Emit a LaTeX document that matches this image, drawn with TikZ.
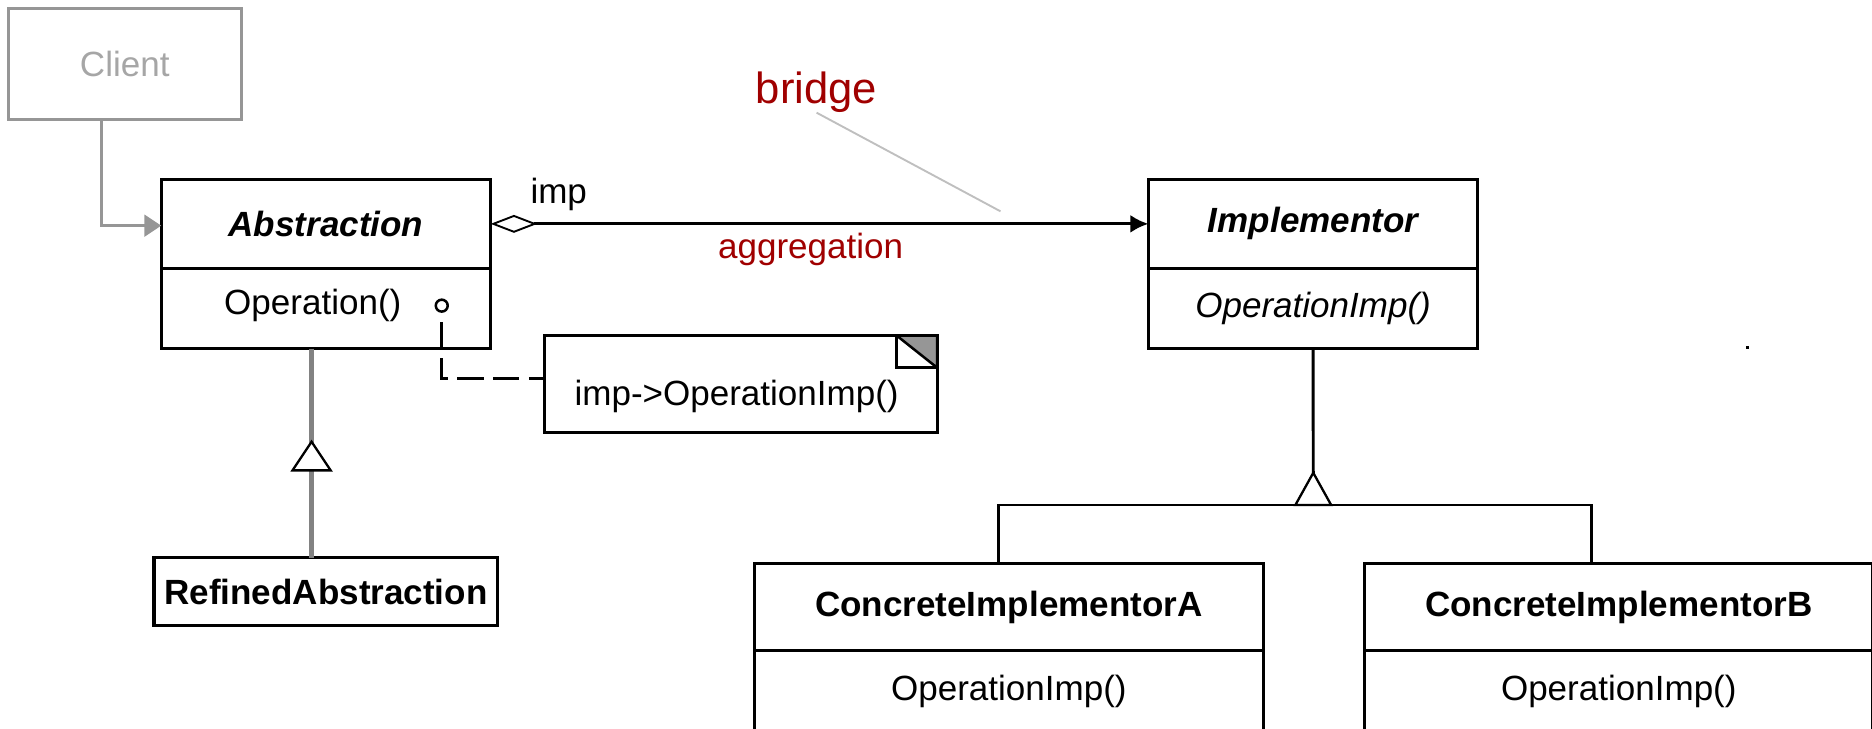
\documentclass[tikz,border=0pt]{standalone}
\usepackage{fontspec}
\setmainfont{Liberation Sans}
\usepackage{tikz}
\usetikzlibrary{arrows.meta, positioning}
\definecolor{clientgray}{RGB}{150,150,150}
\definecolor{gengray}{RGB}{130,130,130}
\definecolor{bridgered}{RGB}{160,0,0}
\newcommand{\umlsize}{\fontsize{16.7}{20}\selectfont}
\newcommand{\bridgesize}{\fontsize{20.8}{25}\selectfont}
\tikzset{
  box/.style = {draw=black, line width=1.5pt, inner sep=0pt, outer sep=0pt,
    font=\umlsize, align=center},
  clshead/.style = {box, minimum width=5.52cm, minimum height=1.5cm,
    font=\umlsize\bfseries\itshape},
  clsops/.style = {box, minimum width=5.52cm, minimum height=1.34cm},
  conchead/.style = {box, minimum width=8.52cm, minimum height=1.46cm,
    font=\umlsize\bfseries},
  concops/.style = {box, minimum width=8.52cm, minimum height=1.36cm},
  refbox/.style = {box, minimum width=5.76cm, minimum height=1.14cm,
    font=\umlsize\bfseries},
  clientbox/.style = {box, draw=clientgray, text=clientgray!85,
    minimum width=3.9cm, minimum height=1.86cm},
  notebox/.style = {box, minimum width=6.58cm, minimum height=1.62cm},
  lbl/.style = {inner sep=0pt, font=\umlsize},
  redlbl/.style = {lbl, text=bridgered},
  hook/.style = {circle, draw=black, fill=white, line width=1.2pt,
    minimum size=0.2cm, inner sep=0pt},
  speck/.style = {fill=black, minimum size=0.05cm, inner sep=0pt},
  assoc/.style = {draw=black, line width=1.4pt},
  tree/.style = {draw=black, line width=1.4pt},
  genline/.style = {draw=gengray, line width=2.2pt},
  clientline/.style = {draw=clientgray, line width=1.4pt},
  bridgeline/.style = {draw=black!25, line width=0.9pt},
  noteline/.style = {draw=black, line width=1.4pt,
    dash pattern=on 0.44cm off 0.16cm, dash phase=0.44cm}
}

\begin{document}
\begin{tikzpicture}[x=0.02cm, y=-0.02cm, >=Latex]
\useasboundingbox (0,0) rectangle (1568,610.6);
\clip (0,0) rectangle (1568,610.6);

% classes
\node [clientbox] (client) at (104.5,53.5) {Client};
\node [clshead] (absT) at (273,187.5) {Abstraction};
\node [clsops, below=0pt of absT] (absO) {};
\node [lbl] (absOp) at (262,256) {Operation()};
\node [hook] (hook) at (370,256) {};
\node [clshead, right=11.02cm of absT] (impT) {Implementor};
\node [clsops, below=0pt of impT, font=\umlsize\itshape] (impO) {OperationImp()};
\node [refbox] (refined) at (273,495.5) {RefinedAbstraction};
\node [conchead] (ciA) at (845,508.5) {ConcreteImplementorA};
\node [concops, below=0pt of ciA] (ciAops) {OperationImp()};
\node [conchead, right=1.7cm of ciA] (ciB) {ConcreteImplementorB};
\node [concops, below=0pt of ciB] (ciBops) {OperationImp()};

% note
\node [notebox] (note) at (620.5,321.5) {};
\node [lbl] (noteTxt) at (617,332) {imp->OperationImp()};
\draw [line width=1.2pt, fill=clientgray] (note.north east) -- ++(-34,0) -- ++(34,27) -- cycle;
\draw [line width=1.2pt] (note.north east) ++(-34,0) -- ++(0,27) -- ++(34,0);

% labels
\node [lbl] (impLbl) at (468,163) {imp};
\node [redlbl] (aggLbl) at (679,209) {aggregation};
\node [redlbl, font=\bridgesize] (bridge) at (684,77) {bridge};
\node [speck] (speck) at (1464,291) {};

% client
\coordinate (cliBend) at (85,189);
\draw [clientline, -{Triangle[length=0.28cm, width=0.36cm]}]
  (cliBend |- client.south) -- (cliBend) -- (cliBend -| absT.west);

% aggregation
\draw [assoc, {Diamond[open, fill=white, length=0.78cm, width=0.3cm, line width=0.9pt]}-{Latex[length=0.3cm, width=0.3cm]}]
  (absT.east) -- (impT.west);
\coordinate (bridgeEnd) at (838,177);
\draw [bridgeline] (bridge.south) -- (bridgeEnd);

% note link
\coordinate (noteBend) at (370,317);
\draw [noteline] (hook.south) -- (noteBend) -- (noteBend -| note.west);

% refined abstraction
\coordinate (refApex) at (261,370);
\draw [genline] (refApex |- absO.south) -- (refApex |- refined.north);
\draw [line width=1.1pt, fill=white] (refApex) -- ++(-16,24) -- ++(32,0) -- cycle;

% concrete implementors
\coordinate (impApex) at (1100,396);
\coordinate (barA) at (836,423);
\coordinate (barB) at (1333,423);
\draw [tree] (impO.south) -- (impApex);
\draw [tree] (barA |- ciA.north) -- (barA) -- (barB) -- (barB |- ciB.north);
\draw [line width=1.1pt, fill=white] (impApex) -- ++(-15,27) -- ++(30,0) -- cycle;
\end{tikzpicture}
\end{document}
